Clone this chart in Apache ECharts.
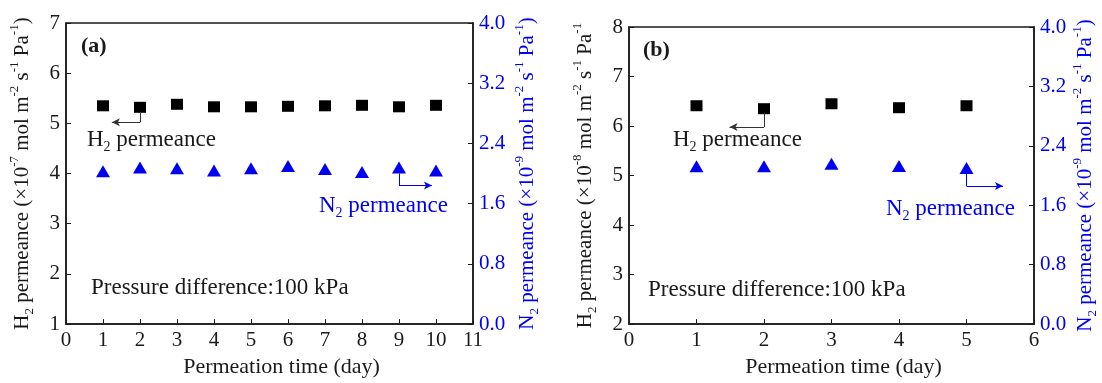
<!DOCTYPE html>
<html>
<head>
<meta charset="utf-8">
<script src="https://cdn.jsdelivr.net/npm/echarts@6/dist/echarts.min.js"></script>
<style>
  html, body { margin: 0; padding: 0; background: #fff; }
  #main { width: 1102px; height: 383px; }
</style>
</head>
<body>
<div id="main"></div>
<script>
// data
const daysA = [1, 2, 3, 4, 5, 6, 7, 8, 9, 10];
const h2A = [5.35, 5.32, 5.38, 5.33, 5.33, 5.34, 5.35, 5.36, 5.33, 5.36];
const n2A = [2.03, 2.08, 2.07, 2.04, 2.07, 2.10, 2.06, 2.02, 2.08, 2.04];

const daysB = [1, 2, 3, 4, 5];
const h2B = [6.41, 6.35, 6.45, 6.37, 6.41];
const n2B = [2.125, 2.125, 2.16, 2.13, 2.10];

// arrow paths (data coords): vertical drop then horizontal arrow
const h2ArrowA = [[2, 5.23], [2, 5.02], [1.24, 5.02]];
const n2ArrowA = [[9, 2.0], [9, 1.84], [9.89, 1.84]];
const h2ArrowB = [[2, 6.27], [2, 5.98], [1.49, 5.98]];
const n2ArrowB = [[5, 2.02], [5, 1.86], [5.54, 1.86]];

const FONT = '"Times New Roman", "Liberation Serif", "DejaVu Serif", serif';
const BLACK = '#1a1a1a';
const BLUE = '#0000f0';

const richName = {
  sup: { fontSize: 13, fontFamily: FONT, verticalAlign: 'top', lineHeight: 13 },
  sub: { fontSize: 13, fontFamily: FONT, verticalAlign: 'bottom', lineHeight: 13 }
};

function permName(gas, exp, closing) {
  return gas + '{sub|2} permeance (×10{sup|-' + exp + '} mol m{sup|-2} s{sup|-1} Pa{sup|-1}' + (closing ? ')' : '');
}

function nameStyle(color) {
  const r = {};
  for (const k in richName) r[k] = Object.assign({ color: color }, richName[k]);
  return { fontSize: 21, fontFamily: FONT, color: color, lineHeight: 28, rich: r };
}

function xAx(grid, max) {
  return {
    type: 'value', gridIndex: grid, min: 0, max: max, interval: 1,
    name: 'Permeation time (day)', nameLocation: 'middle', nameGap: 24,
    nameTextStyle: { fontSize: 22, fontFamily: FONT, color: BLACK, padding: [0, 0, 0, 24] },
    axisLine: { show: true, lineStyle: { color: BLACK, width: 1.5 } },
    axisTick: { show: true, inside: true, length: 5, lineStyle: { color: BLACK } },
    axisLabel: { fontSize: 21, fontFamily: FONT, color: BLACK, margin: 6 },
    splitLine: { show: false }
  };
}

function yLeft(grid, min, max, exp, closing) {
  return {
    type: 'value', gridIndex: grid, position: 'left', min: min, max: max, interval: 1,
    name: permName('H', exp, closing), nameLocation: 'middle', nameGap: 30,
    nameTextStyle: nameStyle(BLACK),
    axisLine: { show: true, lineStyle: { color: BLACK, width: 1.5 } },
    axisTick: { show: true, inside: true, length: 5, lineStyle: { color: BLACK } },
    axisLabel: { fontSize: 21, fontFamily: FONT, color: BLACK, margin: 6 },
    splitLine: { show: false }
  };
}

function yRight(grid, gap) {
  return {
    type: 'value', gridIndex: grid, position: 'right', min: 0, max: 4, interval: 0.8,
    name: permName('N', 9, true), nameLocation: 'middle', nameGap: gap,
    nameTextStyle: nameStyle(BLUE),
    axisLine: { show: true, lineStyle: { color: BLACK, width: 1.5 } },
    axisTick: { show: true, inside: true, length: 5, lineStyle: { color: BLACK } },
    axisLabel: { fontSize: 21, fontFamily: FONT, color: BLUE, margin: 6,
      formatter: v => v.toFixed(1) },
    splitLine: { show: false }
  };
}

function arrowLines(path, color) {
  return {
    silent: true, animation: false,
    label: { show: false },
    lineStyle: { color: color, width: 1, type: 'solid' },
    symbolSize: [6, 8],
    data: [
      [{ coord: path[0], symbol: 'none' }, { coord: path[1], symbol: 'none' }],
      [{ coord: path[1], symbol: 'none' }, { coord: path[2], symbol: 'arrow' }]
    ]
  };
}

function scatter(name, x, y, ai, color, symbol, size, arrow) {
  return {
    name: name, type: 'scatter', xAxisIndex: ai[0], yAxisIndex: ai[1],
    symbol: symbol, symbolSize: size,
    itemStyle: { color: color, opacity: 1 },
    data: x.map((d, i) => [d, y[i]]),
    markLine: arrow
  };
}

function txt(x, y, text, color, extra) {
  return {
    type: 'text', left: x, top: y,
    style: Object.assign({
      text: text, fill: color, fontSize: 23, fontFamily: FONT,
      rich: {
        n: { fontSize: 23, fontFamily: FONT, fill: color },
        sub: { fontSize: 14, fontFamily: FONT, fill: color, verticalAlign: 'bottom', lineHeight: 14 }
      }
    }, extra || {})
  };
}

const chart = echarts.init(document.getElementById('main'));
chart.setOption({
  animation: false,
  backgroundColor: '#fff',
  grid: [
    { left: 66, right: 629, top: 23, bottom: 56, show: true, borderColor: BLACK, borderWidth: 1.5 },
    { left: 629, right: 68, top: 27, bottom: 56, show: true, borderColor: BLACK, borderWidth: 1.5 }
  ],
  xAxis: [xAx(0, 11), xAx(1, 6)],
  yAxis: [yLeft(0, 1, 7, 7, true), yRight(0, 40), yLeft(1, 2, 8, 8, false), yRight(1, 37)],
  series: [
    scatter('H2 a', daysA, h2A, [0, 0], '#000', 'rect', [12, 11], arrowLines(h2ArrowA, '#333')),
    scatter('N2 a', daysA, n2A, [0, 1], BLUE, 'triangle', [14, 12], arrowLines(n2ArrowA, BLUE)),
    scatter('H2 b', daysB, h2B, [1, 2], '#000', 'rect', [12, 11], arrowLines(h2ArrowB, '#333')),
    scatter('N2 b', daysB, n2B, [1, 3], BLUE, 'triangle', [14, 12], arrowLines(n2ArrowB, BLUE))
  ],
  graphic: [
    { type: 'text', left: 81, top: 35, style: { text: '(a)', fill: BLACK, fontSize: 22, fontWeight: 'bold', fontFamily: FONT } },
    txt(87, 126, '{n|H}{sub|2}{n| permeance}', BLACK, { lineHeight: 28 }),
    txt(319, 192, '{n|N}{sub|2}{n| permeance}', BLUE, { lineHeight: 28 }),
    txt(91, 276, 'Pressure difference:100 kPa', BLACK),
    { type: 'text', left: 643, top: 39, style: { text: '(b)', fill: BLACK, fontSize: 22, fontWeight: 'bold', fontFamily: FONT } },
    txt(673, 126, '{n|H}{sub|2}{n| permeance}', BLACK, { lineHeight: 28 }),
    txt(886, 195, '{n|N}{sub|2}{n| permeance}', BLUE, { lineHeight: 28 }),
    txt(648, 278, 'Pressure difference:100 kPa', BLACK)
  ]
});
</script>
</body>
</html>
